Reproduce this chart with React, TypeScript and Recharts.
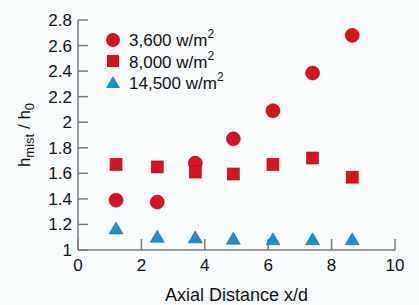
import React from "react";
import {
  ScatterChart,
  Scatter,
  XAxis,
  YAxis,
  Legend,
} from "recharts";

const seriesNames = ["3,600 w/m", "8,000 w/m", "14,500 w/m"];
const axialDistance = [1.2, 2.5, 3.7, 4.9, 6.15, 7.4, 8.65];
const low = [1.39, 1.375, 1.68, 1.87, 2.09, 2.385, 2.68];
const mid = [1.67, 1.65, 1.61, 1.595, 1.67, 1.72, 1.57];
const high = [1.165, 1.1, 1.095, 1.085, 1.08, 1.08, 1.08];
const xTicks = [0, 2, 4, 6, 8, 10];
const yTicks = [1, 1.2, 1.4, 1.6, 1.8, 2, 2.2, 2.4, 2.6, 2.8];

const RED = "#d8121f";
const BLUE = "#1a8fd3";
const INK = "#111";
const FONT = "'Liberation Sans', Arial, sans-serif";

const toPoints = (ys: number[]) => axialDistance.map((x, i) => ({ x, y: ys[i] }));

const CircleDot = (p: any) => (
  <circle cx={p.cx} cy={p.cy} r={7} fill={RED} stroke="#a50d18" strokeWidth={0.6} />
);
const SquareDot = (p: any) => (
  <rect x={p.cx - 6} y={p.cy - 6} width={12} height={12} fill={RED} stroke="#a50d18" strokeWidth={0.6} />
);
const TriDot = (p: any) => (
  <polygon
    points={`${p.cx},${p.cy - 7} ${p.cx + 7},${p.cy + 5} ${p.cx - 7},${p.cy + 5}`}
    fill={BLUE}
    stroke="#136a9e"
    strokeWidth={0.6}
  />
);

const legendIcons = [
  <circle cx={8} cy={8} r={7} fill={RED} />,
  <rect x={2} y={2} width={12} height={12} fill={RED} />,
  <polygon points="8,1 15,13 1,13" fill={BLUE} />,
];

const renderLegend = () => (
  <div style={{ fontFamily: FONT, fontSize: 17, color: INK }}>
    {seriesNames.map((name, i) => (
      <div key={name} style={{ display: "flex", alignItems: "center", height: 21.5 }}>
        <svg width={16} height={16} style={{ marginRight: 8 }}>
          {legendIcons[i]}
        </svg>
        <span>
          {name}
          <sup style={{ fontSize: 12, position: "relative", top: -1 }}>2</sup>
        </span>
      </div>
    ))}
  </div>
);

const YLabel = (props: any) => {
  const vb = props.viewBox || { x: 0, y: 0, width: 0, height: 0 };
  const cy = vb.y + vb.height / 2;
  const cx = 30;
  return (
    <text
      x={cx}
      y={cy}
      transform={`rotate(-90 ${cx} ${cy})`}
      textAnchor="middle"
      fontFamily={FONT}
      fontSize={17}
      fill={INK}
    >
      h
      <tspan fontSize={13} dy={4}>mist</tspan>
      <tspan dy={-4}> / h</tspan>
      <tspan fontSize={13} dy={4}>0</tspan>
    </text>
  );
};

export default function App() {
  const tickStyle = { fontFamily: FONT, fontSize: 17, fill: INK };
  return (
    <div style={{ position: "fixed", top: 0, left: 0, width: 419, height: 305, background: "#f8fcfd" }}>
      <ScatterChart width={419} height={305} margin={{ top: 20, right: 24, bottom: 0, left: 0 }}>
        <XAxis
          type="number"
          dataKey="x"
          domain={[0, 10]}
          ticks={xTicks}
          height={55}
          tickSize={-11}
          tickMargin={20}
          tick={tickStyle}
          axisLine={{ stroke: "#7a7a7a", strokeWidth: 1.5 }}
          tickLine={{ stroke: "#7a7a7a", strokeWidth: 1.5 }}
          label={{
            value: "Axial Distance x/d",
            position: "insideBottom",
            offset: 4,
            style: { fontFamily: FONT, fontSize: 18, fill: INK },
          }}
        />
        <YAxis
          type="number"
          dataKey="y"
          domain={[1, 2.8]}
          ticks={yTicks}
          width={78}
          tickSize={-10}
          tickMargin={16}
          tick={tickStyle}
          axisLine={{ stroke: "#7a7a7a", strokeWidth: 1.5 }}
          tickLine={{ stroke: "#7a7a7a", strokeWidth: 1.5 }}
          label={<YLabel />}
        />
        <Legend
          content={renderLegend}
          layout="vertical"
          verticalAlign="middle"
          align="center"
          wrapperStyle={{ top: 29, left: 105, width: 150 }}
        />
        <Scatter name={seriesNames[0]} data={toPoints(low)} shape={CircleDot} isAnimationActive={false} />
        <Scatter name={seriesNames[1]} data={toPoints(mid)} shape={SquareDot} isAnimationActive={false} />
        <Scatter name={seriesNames[2]} data={toPoints(high)} shape={TriDot} isAnimationActive={false} />
      </ScatterChart>
    </div>
  );
}
